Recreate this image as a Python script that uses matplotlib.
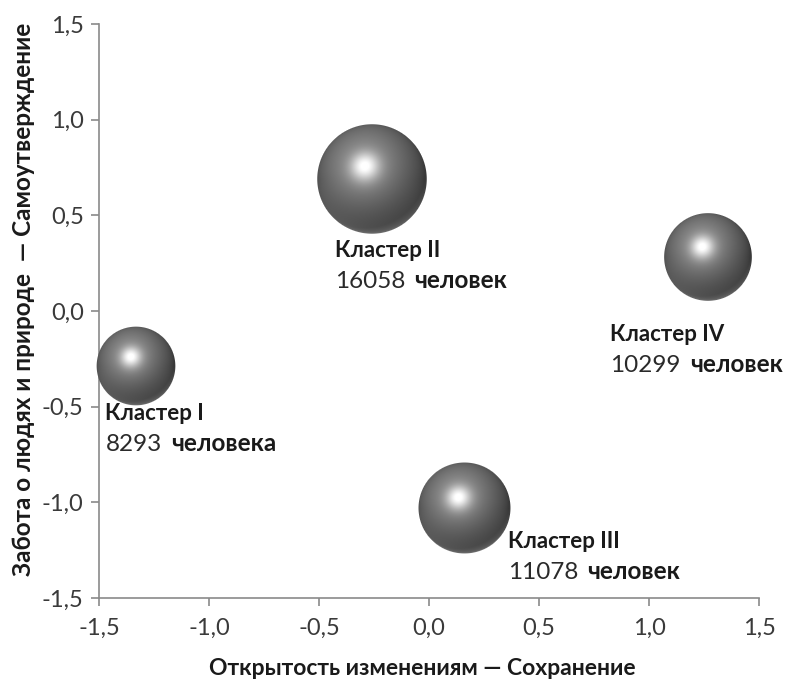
import numpy as np
import matplotlib
matplotlib.use('Agg')
import matplotlib.pyplot as plt
from matplotlib.offsetbox import OffsetImage, AnnotationBbox

plt.rcParams['font.family'] = ['Lato', 'Open Sans', 'DejaVu Sans']

# data
clusters = ['Кластер I', 'Кластер II', 'Кластер III', 'Кластер IV']
x_vals = [-1.33, -0.26, 0.16, 1.27]
y_vals = [-0.29, 0.69, -1.03, 0.28]
people = [8293, 16058, 11078, 10299]
people_words = ['человека', 'человек', 'человек', 'человек']
ticks = [-1.5, -1.0, -0.5, 0.0, 0.5, 1.0, 1.5]

# label offsets from the bubble centre, in pixels (right, up)
label_offsets = [(-31, -37), (-37, -61), (44, -23), (-98, -67)]

PX_PER_SQRT = 0.432  # bubble radius in px per sqrt(people)


def sphere_image(r):
    n = int(np.ceil(r)) * 2 + 4
    c = (n - 1) / 2
    yy, xx = np.mgrid[0:n, 0:n]
    u = (xx - c) / r
    v = -(yy - c) / r
    d2 = u ** 2 + v ** 2
    nz = np.sqrt(np.clip(1 - d2, 0, 1))
    L = np.array([-0.25, 0.45, 0.86])
    L = L / np.linalg.norm(L)
    diff = np.clip(u * L[0] + v * L[1] + nz * L[2], 0, 1)
    H = L + np.array([0, 0, 1.0])
    H = H / np.linalg.norm(H)
    nh = np.clip(u * H[0] + v * H[1] + nz * H[2], 0, 1)
    spec = 0.45 * nh ** 30 + 0.12 * nh ** 6
    rim = np.clip(-v, 0, 1) * (1 - nz) ** 1.5
    inten = 0.22 + 0.25 * diff + spec + 0.25 * rim
    inten = np.clip(inten, 0, 1)
    dist = np.sqrt(d2) * r
    alpha = np.clip(r - dist + 0.5, 0, 1)
    img = np.zeros((n, n, 4))
    img[..., 0] = inten
    img[..., 1] = inten
    img[..., 2] = inten
    img[..., 3] = alpha
    return img


fig = plt.figure(figsize=(7.85, 6.85), dpi=100)
ax = fig.add_axes([99 / 785, 87 / 685, 660 / 785, 574 / 685])

ax.set_xlim(-1.5, 1.5)
ax.set_ylim(-1.5, 1.5)
ax.set_xticks(ticks)
ax.set_yticks(ticks)
fmt = lambda t: ('%.1f' % t).replace('.', ',')
ax.set_xticklabels([fmt(t) for t in ticks])
ax.set_yticklabels([fmt(t) for t in ticks])

for side in ['top', 'right']:
    ax.spines[side].set_visible(False)
for side in ['left', 'bottom']:
    ax.spines[side].set_color('#8a8a8a')
    ax.spines[side].set_linewidth(1.2)
ax.tick_params(axis='both', direction='out', length=6, width=1.2, color='#8a8a8a',
               labelsize=17, labelcolor='#3a3a3a')
ax.tick_params(axis='x', pad=8)
ax.tick_params(axis='y', pad=5)

ax.set_xlabel('Открытость изменениям — Сохранение', fontsize=16.5, fontweight='bold',
              color='#1a1a1a', va='center')
ax.xaxis.set_label_coords(0.49, -0.122)
ax.set_ylabel('Забота о людях и природе  — Самоутверждение', fontsize=17.5,
              fontweight='bold', color='#1a1a1a', va='center')
ax.yaxis.set_label_coords(-0.115, 0.52)

for i in range(len(clusters)):
    r = PX_PER_SQRT * np.sqrt(people[i])
    ab = AnnotationBbox(OffsetImage(sphere_image(r), zoom=1, dpi_cor=False),
                        (x_vals[i], y_vals[i]), frameon=False, pad=0,
                        annotation_clip=False, zorder=3)
    ax.add_artist(ab)

    dx, dy = label_offsets[i]
    ax.annotate(clusters[i], (x_vals[i], y_vals[i]), xytext=(dx, dy),
                textcoords='offset pixels', ha='left', va='top', fontsize=16,
                fontweight='bold', color='#1a1a1a', annotation_clip=False)
    num = ax.annotate(str(people[i]), (x_vals[i], y_vals[i]), xytext=(dx, dy - 31),
                      textcoords='offset pixels', ha='left', va='top', fontsize=17.5,
                      color='#2a2a2a', annotation_clip=False)
    ax.annotate(people_words[i], xy=(1, 0), xycoords=num, xytext=(9, 0),
                textcoords='offset pixels', ha='left', va='bottom', fontsize=17.5,
                fontweight='bold', color='#1a1a1a', annotation_clip=False)

fig.savefig('out.png', dpi=100)
